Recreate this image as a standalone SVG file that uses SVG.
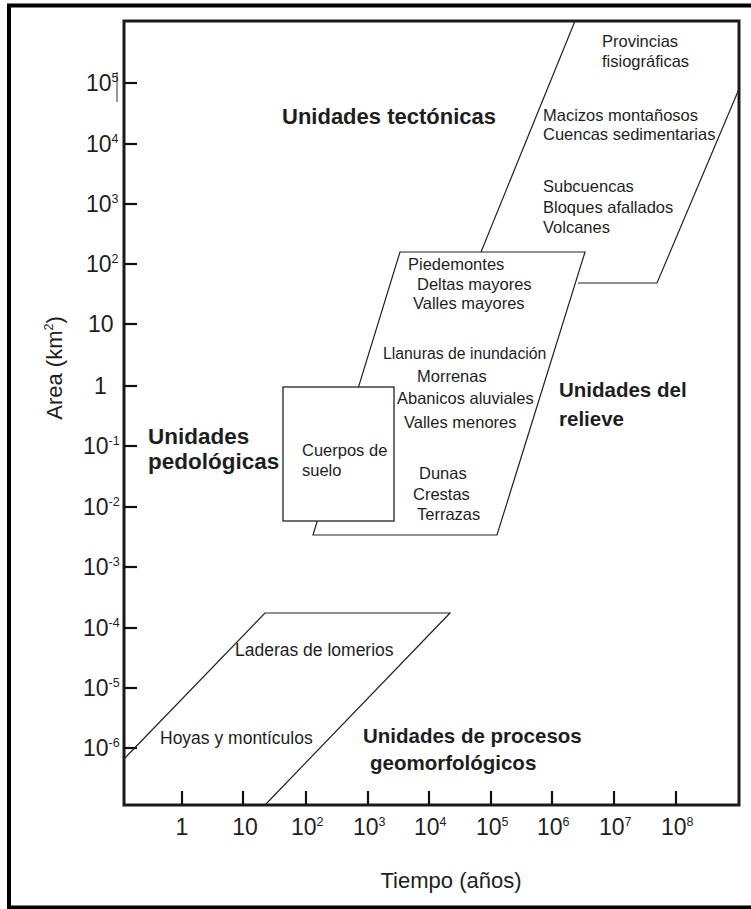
<svg xmlns="http://www.w3.org/2000/svg" width="751" height="909" viewBox="0 0 751 909">
<style>
text { font-family: "Liberation Sans", Arial, sans-serif; fill: #1e1e1e; }
.s { font-size: 16.5px; }
.m { font-size: 17.5px; }
.b { font-weight: bold; }
.t { font-size: 23px; }
.sup { font-size: 12.5px; }
.ln { fill: none; stroke: #222; stroke-width: 1.2; }
.tick { stroke: #111; stroke-width: 2.2; }
</style>
<rect width="751" height="909" fill="#fff"/>
<g id="border">
<path d="M9 909 V5.5 H751 M7 907.5 H751" fill="none" stroke="#000" stroke-width="4"/>
</g>
<g id="frame">
<rect x="124" y="21" width="615" height="784" fill="none" stroke="#1a1a1a" stroke-width="3"/>
<line x1="117" y1="72" x2="117" y2="102" stroke="#333" stroke-width="1"/>
</g>
<g id="yticks" class="tick">
<line x1="124" y1="83" x2="137" y2="83"/>
<line x1="124" y1="144" x2="137" y2="144"/>
<line x1="124" y1="204" x2="137" y2="204"/>
<line x1="124" y1="264" x2="137" y2="264"/>
<line x1="124" y1="324" x2="137" y2="324"/>
<line x1="124" y1="386" x2="137" y2="386"/>
<line x1="124" y1="446" x2="137" y2="446"/>
<line x1="124" y1="507" x2="137" y2="507"/>
<line x1="124" y1="567" x2="137" y2="567"/>
<line x1="124" y1="628" x2="137" y2="628"/>
<line x1="124" y1="688" x2="137" y2="688"/>
<line x1="124" y1="748" x2="137" y2="748"/>
</g>
<g id="xticks" class="tick">
<line x1="182" y1="805" x2="182" y2="791"/>
<line x1="243" y1="805" x2="243" y2="791"/>
<line x1="306" y1="805" x2="306" y2="791"/>
<line x1="368" y1="805" x2="368" y2="791"/>
<line x1="429" y1="805" x2="429" y2="791"/>
<line x1="491" y1="805" x2="491" y2="791"/>
<line x1="552" y1="805" x2="552" y2="791"/>
<line x1="614" y1="805" x2="614" y2="791"/>
<line x1="676" y1="805" x2="676" y2="791"/>
</g>
<g id="ylabels" class="t">
<text x="86" y="91">10<tspan class="sup" dy="-9">5</tspan></text>
<text x="86" y="152">10<tspan class="sup" dy="-9">4</tspan></text>
<text x="86" y="212">10<tspan class="sup" dy="-9">3</tspan></text>
<text x="86" y="272">10<tspan class="sup" dy="-9">2</tspan></text>
<text x="88" y="332">10</text>
<text x="94" y="394">1</text>
<text x="83" y="454">10<tspan class="sup" dy="-9">-1</tspan></text>
<text x="83" y="515">10<tspan class="sup" dy="-9">-2</tspan></text>
<text x="83" y="575">10<tspan class="sup" dy="-9">-3</tspan></text>
<text x="83" y="636">10<tspan class="sup" dy="-9">-4</tspan></text>
<text x="83" y="696">10<tspan class="sup" dy="-9">-5</tspan></text>
<text x="83" y="756">10<tspan class="sup" dy="-9">-6</tspan></text>
</g>
<g id="xlabels" class="t">
<text x="182" y="835" text-anchor="middle">1</text>
<text x="245" y="835" text-anchor="middle">10</text>
<text x="291" y="835">10<tspan class="sup" dy="-9">2</tspan></text>
<text x="353" y="835">10<tspan class="sup" dy="-9">3</tspan></text>
<text x="414" y="835">10<tspan class="sup" dy="-9">4</tspan></text>
<text x="476" y="835">10<tspan class="sup" dy="-9">5</tspan></text>
<text x="537" y="835">10<tspan class="sup" dy="-9">6</tspan></text>
<text x="599" y="835">10<tspan class="sup" dy="-9">7</tspan></text>
<text x="661" y="835">10<tspan class="sup" dy="-9">8</tspan></text>
</g>
<g id="axis-titles">
<text class="t" x="451" y="888" text-anchor="middle" style="font-size:22px">Tiempo (años)</text>
<text class="t" transform="translate(62,368) rotate(-90)" text-anchor="middle" style="font-size:22px">Area (km<tspan class="sup" dy="-9">2</tspan><tspan dy="9">)</tspan></text>
</g>
<g id="connectors">
<polyline class="ln" points="481,252 575,21"/>
<polyline class="ln" points="578,283 657,283 739,89"/>
<polygon class="ln" points="400,252 585,252 497,535 313,535"/>
<polyline class="ln" points="124,759 265,613 450,613 265,805"/>
</g>
<g id="cuerpos-de-suelo">
<rect x="283" y="387" width="111" height="134" fill="#fff" stroke="#222" stroke-width="1.3"/>
<text class="s" x="302" y="456">Cuerpos de</text>
<text class="s" x="302" y="476">suelo</text>
</g>
<g id="unidades-tectonicas">
<text class="b" x="282" y="124" style="font-size:22px">Unidades tectónicas</text>
<text class="s" x="602" y="47">Provincias</text>
<text class="s" x="602" y="67">fisiográficas</text>
<text class="s" x="543" y="121">Macizos montañosos</text>
<text class="s" x="543" y="140">Cuencas sedimentarias</text>
<text class="s" x="543" y="192">Subcuencas</text>
<text class="s" x="543" y="213">Bloques afallados</text>
<text class="s" x="543" y="233">Volcanes</text>
</g>
<g id="unidades-relieve">
<text class="s" x="408" y="270">Piedemontes</text>
<text class="s" x="417" y="290">Deltas mayores</text>
<text class="s" x="413" y="309">Valles mayores</text>
<text class="s" x="383" y="359" style="font-size:15.8px">Llanuras de inundación</text>
<text class="s" x="417" y="382">Morrenas</text>
<text class="s" x="397" y="404">Abanicos aluviales</text>
<text class="s" x="404" y="428">Valles menores</text>
<text class="s" x="419" y="479">Dunas</text>
<text class="s" x="413" y="500">Crestas</text>
<text class="s" x="417" y="520">Terrazas</text>
<text class="b" x="559" y="397" style="font-size:20.5px">Unidades del</text>
<text class="b" x="559" y="426" style="font-size:20.5px">relieve</text>
</g>
<g id="unidades-pedologicas">
<text class="b" x="148" y="444" style="font-size:22.5px">Unidades</text>
<text class="b" x="148" y="469" style="font-size:22.5px">pedológicas</text>
</g>
<g id="unidades-procesos">
<text class="m" x="235" y="656">Laderas de lomerios</text>
<text class="m" x="160" y="744">Hoyas y montículos</text>
<text class="b" x="363" y="743" style="font-size:20.5px">Unidades de procesos</text>
<text class="b" x="370" y="770" style="font-size:20.5px">geomorfológicos</text>
</g>
</svg>
